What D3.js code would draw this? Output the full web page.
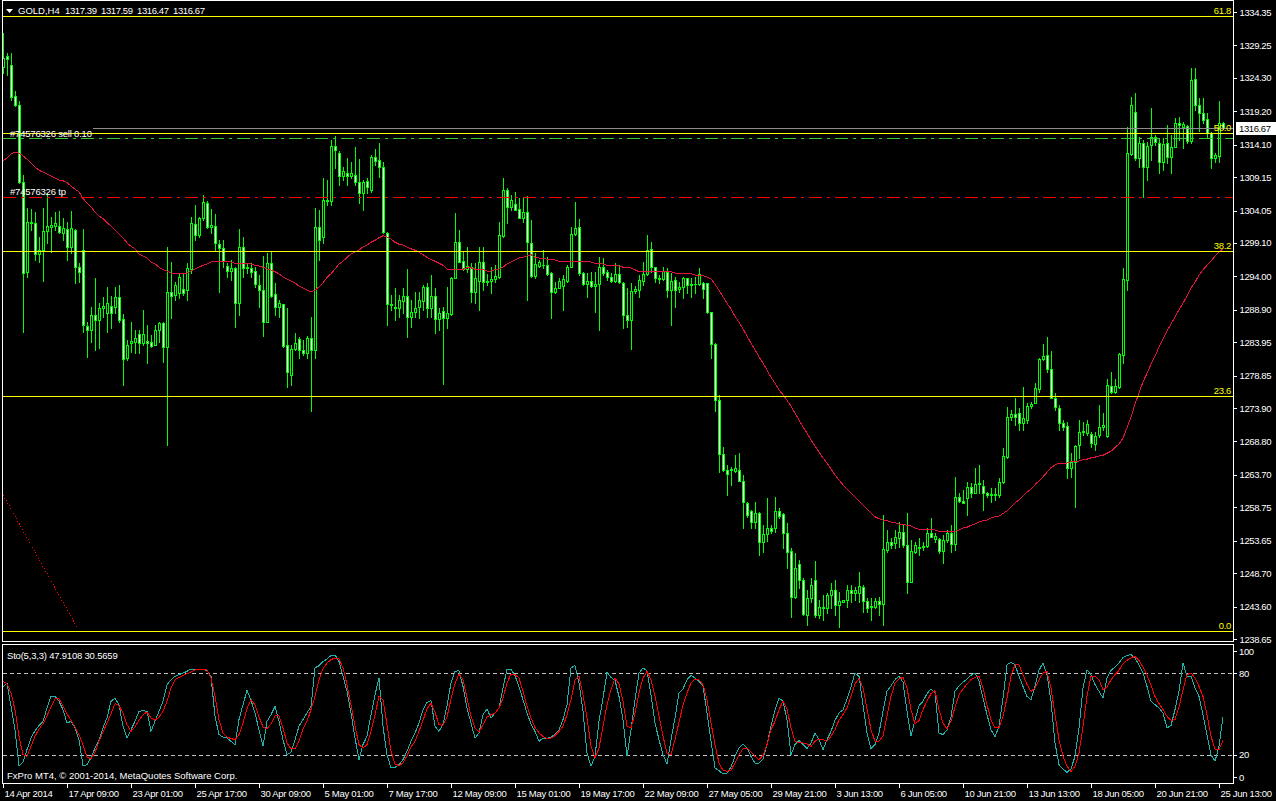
<!DOCTYPE html>
<html><head><meta charset="utf-8">
<script src="https://cdn.jsdelivr.net/npm/d3@7"></script>
<style>
html,body{margin:0;padding:0;background:#000;}
svg{display:block;}
text{font-family:"Liberation Sans",Arial,sans-serif;}
</style></head><body>
<svg id="c" width="1276" height="801"></svg>
<script>
// ---------------- DATA ----------------
const TITLE_PARTS = ["GOLD,H4","1317.39","1317.59","1316.47","1316.67"];
const STO_TITLE = "Sto(5,3,3) 47.9108 30.5659";
const COPYRIGHT = "FxPro MT4, \u00A9 2001-2014, MetaQuotes Software Corp.";

const OPEN = [1325.95,1327.63,1326.26,1321.53,1320.15,1308.40,1294.66,1302.30,1302.15,1297.41,
1298.02,1300.92,1301.53,1301.69,1301.69,1300.62,1301.23,1298.48,1301.07,1295.43,
1298.02,1286.42,1285.81,1288.10,1287.34,1289.17,1288.41,1289.48,1289.32,1290.85,
1287.49,1281.54,1283.83,1283.98,1285.20,1283.83,1284.10,1283.98,1283.52,1285.81,
1286.88,1283.22,1291.61,1291.16,1291.46,1292.07,1291.92,1295.12,1302.00,1300.31,
1302.91,1305.20,1301.53,1301.69,1298.94,1298.33,1295.58,1294.82,1295.27,1289.93,
1298.48,1295.27,1295.27,1294.82,1292.68,1291.92,1287.03,1296.04,1291.31,1289.32,
1289.78,1283.52,1278.94,1282.91,1284.44,1282.76,1282.30,1284.59,1282.76,1301.53,
1300.01,1305.65,1305.50,1313.90,1312.83,1309.32,1309.77,1309.32,1309.47,1308.40,
1306.72,1308.55,1307.18,1312.22,1311.76,1310.69,1300.62,1289.78,1289.32,1289.17,
1290.24,1291.00,1287.80,1288.56,1289.32,1290.24,1292.38,1289.17,1291.00,1287.49,
1288.71,1287.64,1288.25,1293.75,1299.24,1296.34,1295.12,1295.43,1291.61,1293.29,
1296.19,1293.14,1293.29,1293.60,1293.90,1300.16,1307.18,1304.59,1305.04,1304.28,
1302.91,1303.82,1299.09,1294.05,1295.58,1295.80,1295.73,1294.51,1291.61,1292.22,
1292.53,1293.29,1295.43,1300.47,1301.53,1294.51,1292.83,1293.29,1292.53,1292.83,
1295.43,1294.66,1293.90,1293.29,1294.36,1292.99,1288.10,1287.34,1291.77,1291.92,
1293.29,1294.36,1298.18,1295.43,1293.75,1293.60,1294.66,1291.92,1293.44,1292.07,
1292.38,1293.75,1292.68,1292.83,1292.83,1292.99,1292.99,1288.56,1283.68,1275.13,
1266.89,1264.45,1264.45,1264.29,1264.45,1262.76,1259.41,1258.19,1256.51,1257.88,
1253.45,1254.67,1255.59,1255.59,1258.19,1257.73,1254.83,1252.08,1245.06,1250.10,
1247.65,1242.31,1244.91,1247.65,1242.31,1243.53,1243.38,1245.37,1246.13,1243.84,
1244.30,1244.60,1246.13,1245.67,1245.67,1246.59,1244.45,1243.60,1243.53,1244.45,
1243.99,1252.23,1253.45,1253.30,1254.07,1254.98,1253.00,1247.35,1251.93,1252.54,
1252.69,1252.84,1254.83,1253.91,1253.91,1252.08,1253.76,1254.83,1253.15,1260.32,
1259.71,1260.17,1261.85,1260.93,1262.31,1262.00,1260.93,1260.63,1260.78,1260.63,
1262.62,1266.42,1272.53,1272.99,1273.14,1271.62,1272.07,1274.21,1274.67,1276.81,
1281.39,1282.00,1279.86,1275.43,1273.90,1271.62,1271.16,1264.75,1265.67,1268.26,
1270.24,1270.09,1269.94,1268.41,1269.79,1271.01,1269.63,1277.27,1276.35,1277.11,
1282.00,1293.44,1312.68,1319.09,1312.06,1314.35,1310.69,1314.05,1315.27,1314.35,
1311.45,1314.35,1312.22,1313.74,1317.41,1316.80,1316.94,1314.66,1324.12,1320.15,
1318.93,1318.02,1315.88,1312.06,1312.37,1317.39];

const HIGH = [1331.14,1328.09,1328.09,1322.29,1320.76,1309.47,1304.43,1304.28,1303.82,1300.01,
1304.43,1306.72,1303.06,1303.82,1303.97,1302.91,1302.30,1303.97,1301.23,1296.04,
1301.23,1287.03,1289.32,1293.75,1289.93,1290.85,1292.38,1291.00,1292.38,1292.68,
1288.25,1284.29,1287.03,1285.81,1285.81,1288.87,1286.57,1285.05,1286.57,1287.03,
1287.03,1298.48,1296.19,1293.14,1294.51,1294.51,1296.04,1303.06,1304.89,1303.06,
1306.42,1305.50,1304.28,1303.52,1299.55,1299.55,1296.04,1296.50,1295.43,1301.23,
1300.01,1296.04,1296.04,1295.43,1294.20,1297.11,1297.56,1297.72,1292.99,1290.39,
1289.78,1289.17,1283.52,1285.36,1284.74,1284.29,1284.88,1287.80,1304.43,1304.13,
1309.01,1308.71,1314.81,1315.42,1313.13,1310.69,1312.06,1311.45,1313.74,1311.91,
1308.71,1309.01,1312.52,1313.44,1314.35,1311.45,1300.77,1291.16,1292.22,1291.16,
1292.22,1295.12,1290.39,1291.61,1291.61,1292.68,1292.99,1294.20,1292.22,1289.17,
1289.32,1292.38,1293.90,1303.67,1301.07,1297.72,1298.48,1296.04,1296.04,1298.48,
1298.48,1294.36,1295.43,1295.73,1302.30,1309.01,1307.49,1306.42,1306.87,1305.96,
1305.96,1306.26,1302.60,1297.56,1296.50,1298.02,1296.95,1294.66,1293.14,1293.75,
1294.20,1295.73,1301.53,1305.35,1302.75,1294.66,1294.51,1294.66,1294.66,1296.95,
1296.80,1294.97,1294.51,1296.04,1295.73,1293.14,1292.22,1292.99,1292.53,1294.20,
1296.19,1300.31,1299.24,1295.43,1294.20,1295.43,1295.27,1294.51,1293.90,1293.14,
1293.90,1293.75,1293.75,1293.90,1295.27,1293.14,1292.99,1288.56,1283.83,1275.89,
1267.95,1265.21,1264.90,1266.73,1267.04,1263.68,1259.57,1258.34,1259.57,1258.03,
1256.05,1260.17,1256.05,1260.32,1258.65,1257.88,1256.36,1252.54,1251.78,1250.71,
1247.96,1246.13,1247.96,1250.56,1244.60,1245.37,1245.67,1247.20,1247.65,1245.82,
1244.60,1246.89,1246.89,1246.59,1248.87,1246.89,1244.91,1244.91,1244.91,1245.06,
1257.57,1255.29,1254.07,1255.29,1256.51,1256.05,1257.88,1253.76,1253.45,1254.07,
1253.45,1255.59,1257.12,1254.83,1254.07,1254.52,1255.29,1256.05,1263.37,1260.93,
1261.39,1262.62,1262.46,1264.75,1265.21,1262.91,1261.08,1261.70,1261.70,1263.22,
1267.80,1274.07,1273.60,1275.43,1273.90,1277.11,1274.67,1274.82,1277.72,1281.54,
1283.68,1284.74,1282.61,1276.20,1274.37,1272.07,1271.77,1267.04,1268.26,1272.07,
1271.77,1272.07,1270.24,1270.24,1274.37,1273.14,1278.32,1279.40,1278.32,1282.30,
1295.27,1316.80,1321.37,1321.99,1315.27,1314.81,1314.51,1319.70,1315.57,1315.12,
1315.12,1317.10,1315.57,1318.17,1318.32,1317.56,1317.10,1325.80,1325.80,1321.22,
1321.22,1318.93,1316.03,1312.83,1320.76,1317.59];

const LOW = [1325.04,1324.73,1320.92,1320.00,1308.25,1285.51,1293.90,1301.07,1296.50,1296.19,
1293.29,1299.09,1297.72,1301.07,1300.62,1299.55,1296.50,1297.56,1292.99,1293.14,
1285.51,1281.69,1283.98,1282.76,1283.07,1287.80,1285.51,1286.12,1288.41,1287.03,
1277.42,1281.23,1282.45,1282.30,1282.30,1283.52,1280.77,1283.22,1283.52,1283.98,
1280.93,1268.26,1287.64,1290.39,1290.70,1291.16,1290.39,1294.51,1299.55,1300.01,
1302.60,1301.38,1300.62,1298.02,1291.61,1295.43,1293.90,1293.44,1286.27,1288.10,
1293.90,1294.51,1293.90,1292.38,1289.32,1284.90,1287.03,1290.85,1288.10,1287.80,
1283.22,1277.11,1277.42,1282.76,1281.54,1282.00,1281.54,1273.43,1281.54,1296.50,
1299.09,1304.89,1304.89,1310.54,1307.94,1308.71,1307.94,1309.01,1307.94,1305.20,
1304.13,1306.72,1306.87,1311.00,1309.16,1300.62,1286.57,1288.87,1287.34,1287.80,
1288.41,1284.74,1286.27,1287.80,1287.64,1288.87,1287.80,1287.80,1285.36,1285.81,
1277.57,1286.12,1288.10,1293.75,1296.19,1294.97,1294.66,1290.09,1289.93,1288.87,
1291.92,1292.68,1291.46,1293.14,1293.75,1300.01,1302.15,1304.13,1304.13,1302.91,
1302.30,1290.39,1293.90,1293.75,1295.43,1295.27,1294.20,1287.64,1291.46,1292.22,
1288.87,1293.14,1295.43,1300.31,1294.20,1292.68,1290.85,1292.38,1288.56,1285.81,
1294.20,1293.44,1293.14,1293.14,1292.99,1286.12,1286.27,1282.90,1291.46,1290.85,
1292.68,1294.20,1294.66,1293.14,1292.99,1293.44,1290.85,1286.57,1289.32,1291.61,
1290.70,1291.46,1290.85,1291.46,1292.68,1290.70,1288.41,1281.54,1273.43,1264.14,
1264.29,1260.63,1262.15,1264.14,1262.76,1255.57,1257.27,1255.59,1255.59,1251.47,
1251.93,1253.61,1254.83,1254.98,1257.12,1252.54,1249.49,1242.00,1244.91,1246.43,
1242.31,1240.79,1244.30,1242.00,1241.85,1241.55,1242.62,1243.38,1242.31,1240.48,
1244.30,1243.53,1244.30,1244.60,1244.30,1242.76,1242.76,1241.55,1243.38,1242.31,
1240.79,1251.93,1252.54,1252.54,1252.69,1252.69,1245.67,1247.35,1251.78,1251.47,
1252.23,1252.69,1254.21,1253.45,1251.78,1250.25,1253.45,1251.93,1252.23,1259.57,
1259.41,1257.57,1260.32,1260.93,1260.93,1258.34,1260.32,1259.57,1259.87,1260.32,
1262.46,1266.27,1272.07,1271.31,1270.55,1270.55,1271.62,1273.90,1274.67,1276.35,
1281.23,1279.40,1275.43,1273.60,1270.55,1270.55,1263.22,1263.37,1258.80,1266.27,
1269.79,1269.79,1267.95,1267.50,1269.48,1270.55,1269.48,1276.20,1276.20,1276.96,
1280.77,1291.92,1312.52,1311.76,1310.69,1306.11,1308.71,1311.76,1314.05,1309.77,
1310.23,1311.30,1309.77,1313.74,1314.81,1313.59,1314.35,1314.35,1319.39,1316.17,
1317.41,1315.27,1310.54,1311.45,1311.45,1316.47];

const CLOSE = [1327.33,1327.17,1321.37,1320.15,1308.40,1294.51,1302.30,1302.15,1297.41,1298.02,
1300.92,1301.69,1301.84,1302.15,1300.77,1301.38,1298.48,1301.38,1295.43,1294.66,
1286.57,1285.81,1288.10,1287.34,1289.17,1289.48,1289.93,1288.41,1290.85,1287.34,
1281.39,1283.52,1284.13,1284.60,1283.83,1285.20,1283.90,1283.37,1285.81,1286.88,
1283.22,1291.61,1291.00,1292.68,1293.90,1291.46,1295.27,1302.15,1300.31,1302.91,
1305.35,1301.53,1301.84,1299.09,1298.33,1296.34,1294.82,1295.27,1289.93,1298.48,
1295.27,1295.43,1294.66,1292.83,1291.92,1287.03,1296.04,1291.00,1289.32,1289.93,
1283.37,1279.40,1282.91,1283.83,1282.76,1282.30,1284.59,1282.76,1301.53,1299.55,
1305.65,1305.50,1313.90,1313.29,1309.32,1310.08,1309.32,1309.77,1308.40,1306.72,
1308.40,1307.64,1312.22,1311.61,1310.69,1300.77,1289.78,1289.63,1289.17,1290.39,
1291.00,1287.80,1288.56,1289.17,1290.39,1292.38,1289.17,1291.00,1287.49,1288.41,
1287.64,1288.41,1293.75,1299.24,1296.19,1295.12,1295.58,1291.61,1293.75,1296.19,
1293.14,1293.29,1293.60,1294.05,1300.31,1307.18,1304.59,1305.65,1304.13,1302.91,
1303.82,1299.24,1294.05,1295.89,1296.19,1295.70,1294.36,1291.61,1292.22,1293.29,
1293.60,1295.43,1300.47,1301.38,1294.51,1292.83,1293.29,1292.53,1292.83,1295.43,
1294.51,1293.90,1293.29,1294.36,1293.14,1288.10,1287.34,1291.77,1292.07,1293.44,
1294.36,1298.02,1295.43,1293.75,1293.60,1294.82,1291.92,1293.29,1291.92,1292.38,
1293.75,1292.68,1292.83,1292.90,1294.36,1292.07,1288.56,1283.68,1275.13,1266.89,
1264.45,1263.83,1264.60,1264.75,1262.76,1259.57,1257.57,1256.51,1257.88,1253.45,
1254.67,1255.59,1255.13,1258.19,1257.42,1254.83,1251.93,1245.06,1249.49,1247.65,
1242.46,1244.91,1246.89,1242.31,1243.53,1243.38,1245.37,1246.13,1243.84,1244.45,
1244.60,1246.13,1245.67,1246.13,1246.74,1244.45,1243.38,1243.70,1244.45,1243.99,
1252.39,1253.45,1253.00,1254.21,1254.98,1253.00,1247.35,1252.08,1253.00,1252.69,
1252.84,1254.83,1254.21,1254.37,1252.08,1253.76,1254.83,1253.15,1260.32,1259.71,
1259.41,1261.85,1260.93,1262.31,1262.46,1260.93,1260.63,1260.78,1260.63,1262.62,
1266.58,1272.53,1272.99,1272.53,1271.62,1272.38,1274.21,1274.52,1276.96,1281.39,
1281.84,1279.86,1275.43,1274.06,1271.62,1271.01,1264.75,1265.67,1268.11,1270.24,
1270.40,1271.47,1268.56,1269.63,1271.01,1271.31,1277.42,1276.35,1277.27,1282.15,
1293.60,1312.83,1320.15,1312.06,1314.35,1310.69,1313.90,1315.27,1314.51,1311.45,
1314.20,1312.22,1313.74,1317.41,1317.10,1317.25,1314.66,1323.97,1320.15,1318.93,
1317.86,1315.88,1312.06,1312.52,1317.39,1316.67];

const MA = [1311.6,1312.1,1312.7,1313.0,1312.8,1312.4,1311.9,1311.3,1310.7,1310.2,
1309.9,1309.6,1309.3,1309.0,1308.7,1308.6,1308.3,1307.8,1307.3,1306.9,
1305.9,1305.2,1304.6,1303.8,1303.2,1302.8,1302.2,1301.7,1301.1,1300.5,
1299.9,1299.1,1298.6,1298.2,1297.4,1297.1,1296.8,1296.2,1295.9,1295.4,
1295.0,1294.8,1294.5,1294.5,1294.4,1294.4,1294.5,1294.8,1295.1,1295.4,
1295.7,1295.9,1296.2,1296.2,1296.3,1296.3,1296.2,1296.2,1296.0,1295.9,
1295.9,1295.9,1295.9,1295.7,1295.6,1295.4,1295.1,1295.0,1294.7,1294.4,
1293.9,1293.6,1293.3,1293.0,1292.5,1292.2,1291.9,1291.6,1291.9,1292.4,
1293.0,1293.8,1294.4,1295.1,1295.9,1296.3,1296.9,1297.4,1297.7,1298.0,
1298.5,1298.8,1299.2,1299.5,1299.9,1300.2,1300.0,1299.7,1299.2,1298.9,
1298.8,1298.5,1298.2,1298.0,1297.7,1297.3,1296.9,1296.6,1296.3,1296.0,
1295.7,1295.1,1295.0,1295.0,1295.1,1295.1,1295.3,1295.3,1295.1,1295.0,
1295.0,1294.8,1294.8,1295.0,1295.1,1295.4,1295.9,1296.2,1296.5,1296.8,
1296.9,1297.1,1297.3,1296.9,1296.8,1296.8,1296.6,1296.6,1296.5,1296.3,
1296.3,1296.2,1296.2,1296.3,1296.3,1296.3,1296.2,1296.2,1296.0,1295.9,
1295.9,1295.7,1295.7,1295.7,1295.6,1295.4,1295.4,1295.3,1295.0,1294.7,
1294.7,1294.8,1294.8,1294.8,1294.8,1294.8,1294.7,1294.7,1294.5,1294.5,
1294.4,1294.4,1294.4,1294.2,1294.2,1294.1,1293.9,1293.6,1292.8,1291.9,
1290.9,1289.9,1289.0,1287.9,1287.0,1286.0,1284.9,1283.8,1282.8,1281.7,
1280.8,1279.7,1278.6,1277.7,1276.7,1275.9,1275.1,1274.2,1273.1,1272.1,
1271.0,1270.1,1269.0,1268.1,1267.2,1266.3,1265.5,1264.6,1263.7,1262.9,
1262.2,1261.5,1260.9,1260.3,1259.7,1259.1,1258.5,1257.9,1257.3,1257.0,
1256.8,1256.7,1256.5,1256.4,1256.2,1256.2,1256.0,1255.9,1255.6,1255.4,
1255.4,1255.3,1255.3,1255.3,1255.1,1255.1,1255.0,1255.0,1255.1,1255.3,
1255.6,1255.7,1256.0,1256.2,1256.5,1256.7,1256.8,1257.1,1257.3,1257.4,
1257.8,1258.2,1258.8,1259.4,1259.9,1260.5,1261.1,1261.5,1262.2,1262.8,
1263.4,1264.1,1264.8,1265.2,1265.5,1265.5,1265.5,1265.7,1265.7,1265.8,
1266.0,1266.1,1266.3,1266.4,1266.6,1266.7,1267.0,1267.3,1267.9,1268.4,
1269.3,1270.9,1272.5,1274.5,1276.2,1277.9,1279.2,1280.6,1281.8,1283.2,
1284.4,1285.7,1286.7,1287.8,1288.9,1289.9,1291.0,1292.2,1293.1,1294.2,
1295.0,1295.7,1296.3,1297.1,1297.7,1298.2];

const STO_K = [69.8,72.7,55.6,38.5,12.2,14.6,24,32.4,37.8,41.5,
44.6,54.4,63,63,59.3,53.2,43.4,44.6,39.8,31.2,
12.2,12.9,17.8,25.1,31.2,39.8,47.1,59.3,61.7,56.8,
41,32.4,38.5,44.6,52,52.4,52,37.3,44.6,52,
59.3,71.5,75.1,77.6,78.8,80,81.2,82.9,82.4,82.4,
82.4,82,77.6,48.3,34.9,33.2,32.4,30,27.6,45.9,
56.8,67.3,60,50.7,38.5,26.3,44.6,49.5,55.6,44.6,
31.2,20.2,22,31.2,41,45.9,50.7,55.6,83.7,85.4,
88.5,90.2,92.9,93.2,88.5,77.6,66.6,50.7,32.4,16.6,
27.6,33.7,49.5,64.1,76.3,41,20.2,10.5,11,12.9,
16.6,22.7,30,36.1,43.4,53.2,58.5,59.8,41,37.3,
42.2,56.1,72.7,81.2,81.7,70.2,54.4,43.4,32.4,36.1,
49.5,53.7,47.1,50.7,54.4,69,82.9,82.9,78,69.8,
60.5,50.7,42.7,37.3,30,32.4,32,33.2,34.9,38.5,
45.9,56.8,83.7,85.4,72.7,52,21.5,11.7,19,44.6,
61.7,80.5,76.8,74.6,62.9,45.9,19,38.5,60.5,80,
83.7,81.7,64.1,43.4,31.2,20.2,13.4,31.2,47.1,65.4,
68.5,75.1,78.3,76.3,73.9,70.7,50.7,30,10.5,8.5,
6.1,6.8,11.2,19,25.1,28,25.1,19,14.1,14.1,
17.1,27.6,41,53.2,61.7,59.3,45.9,20.2,27.6,30.7,
27.8,24.6,28.8,36.1,31.2,23.9,31.2,37.3,45.4,50.7,
53,61,70,80,77.6,56.8,36.1,24.6,27.6,36.1,
52,66.6,70.7,75.1,78,73.2,52,33.7,45.9,56.1,
59.3,64.9,68.3,65.4,36.1,34.9,38.5,47.8,66.6,70.7,
73.4,75.6,78.3,80,73.9,61.7,49.5,38.5,33.2,41,
61.7,86.1,87.8,86.1,77.6,70.2,62.9,60.5,70.2,82,
87.3,78.8,59.3,28.8,12.9,9.8,7.3,9.8,19,39.8,
69,82.4,78.8,71.5,66.6,61.7,76.3,82,84.4,87.3,
91.5,92.9,93.4,91,86.1,80,70.2,59.3,56.8,54.4,
50.7,39.8,41.5,53.2,66.6,87.3,77.6,77.6,69,62.9,
49.5,34.9,20.2,15.4,26.3,47.9];

const STO_D = [73.9,72.2,65.4,53.2,33.7,20.2,19,26.3,33.7,39,
42.9,48.8,55.1,61.2,61.2,56.1,50.2,45.4,40.5,34.9,
27.6,18.5,17.1,21.9,30,36.8,43.4,50.2,57.6,56.1,
50.7,42.2,37.3,40.5,45.4,49.5,51.5,47.1,45.4,47.8,
52,59.3,69,75.1,76.8,78.3,79.5,80.7,82.2,82.4,
82.4,82.2,76.3,62.9,45.9,36.1,33.2,32,31.2,34.9,
43.4,53.9,60.5,56.8,47.8,40.5,39,42.9,48.8,48.8,
39.8,28.8,24.4,24.4,30,39,44.6,53.2,62.9,75.1,
83.2,87.3,89.8,91,90.2,83.7,71.5,56.8,41,27.6,
25.1,27.6,37.3,49.5,62.9,60.5,42.2,22.7,13.4,12.2,
14.1,19.5,25.9,30,37.3,45.4,53.7,58,51.2,42.2,
41.7,47.8,61,72.2,79.3,75.1,61.7,48.3,39.8,36.6,
42.2,47.8,49.5,50.7,54.4,61.7,72.7,79.3,78.8,76.3,
66.6,55.6,47.1,40.2,36.1,33.7,32,32.4,34.1,37.3,
41,49.5,60.5,75.1,77.6,64.1,47.1,26.3,17.8,25.1,
41,56.8,67.8,76.3,72,59.3,41,39.8,50.7,65.4,
76.3,81.2,75.1,62.9,48.3,33.7,21.5,20.2,31.2,43.9,
56.8,65.4,72.7,75.6,75.1,71.5,60.5,43.4,27.6,14.1,
8.8,8,8.8,14.1,20.2,24.6,25.1,22.2,19,16.6,
19.5,27.6,38.5,44.6,53.2,59.3,53.7,39.8,30,28.8,
28.8,28,26.3,30,31.7,31.2,30,33.7,38.5,45.4,
49.5,54.5,62.9,72.2,75.9,69,53.9,38.5,30,30,
34.1,48.3,62.9,72.7,75.6,76.8,69,53.2,42.7,45.2,
53.2,59.3,64.9,67.1,53.2,43.4,39,44.6,55.1,64.1,
68.3,72,75.1,76.8,77.6,69,56.8,45.9,39.8,39.8,
48.3,61.7,77.6,86.1,86.1,78.8,71.5,66.6,69,75.1,
80,81.2,69,49.5,31.2,19,11.7,8,11.7,21.5,
41,62.9,77.6,77.6,75.1,67.8,69.8,75.1,78.8,82,
86.8,89.3,91,92.2,89.3,84.4,78.3,71,62.9,57.6,
53.2,48.3,45.4,45.9,55.1,67.8,78.8,80,76.3,70.2,
62.9,49.5,33.7,24.4,23.9,30.6];

const TIME_TICK_BARS = [0,16,32,48,64,80,96,112,128,144,160,176,192,208,224,240,256,272,288,304];
const TIME_LABELS = ["14 Apr 2014","17 Apr 09:00","23 Apr 01:00","25 Apr 17:00","30 Apr 09:00",
"5 May 01:00","7 May 17:00","12 May 09:00","15 May 01:00","19 May 17:00","22 May 09:00",
"27 May 05:00","29 May 21:00","3 Jun 13:00","6 Jun 05:00","10 Jun 21:00","13 Jun 13:00",
"18 Jun 05:00","20 Jun 21:00","25 Jun 13:00"];
const PRICE_TICKS = [1334.35,1329.25,1324.30,1319.20,1314.10,1309.15,1304.05,1299.10,1294.00,1288.90,
1283.95,1278.85,1273.90,1268.80,1263.70,1258.75,1253.65,1248.70,1243.60,1238.65];
const STO_TICKS = [100,80,20,0];
const STO_LEVELS = [80,20];

const FIB_LEVELS = [0,23.6,38.2,50.0,61.8];
const FIB_LOW = 1239.90, FIB_HIGH = 1391.75;
const FIB_BAR_HIGH = -120, FIB_BAR_LOW = 19;
const ORDER_LABEL = "#74576326 sell 0.10", ORDER_PRICE = 1315.12;
const TP_LABEL = "#74576326 tp", TP_PRICE = 1306.11;
const BID = 1316.67;

// ---------------- DRAW ----------------
const N = OPEN.length;
const svg = d3.select("#c");
svg.append("rect").attr("width",1276).attr("height",801).attr("fill","#000");

const x = d3.scaleLinear().domain([0, N-1]).range([3, 1223]);
const y = d3.scaleLinear().domain([1238.65, 1334.35]).range([639, 12]);
const ys = d3.scaleLinear().domain([0, 100]).range([782.3, 645.7]);

const defs = svg.append("defs");
defs.append("clipPath").attr("id","clipMain").append("rect").attr("x",3).attr("y",1).attr("width",1230).attr("height",640);
defs.append("clipPath").attr("id","clipSto").append("rect").attr("x",3).attr("y",645).attr("width",1230).attr("height",138);

const gMain = svg.append("g").attr("clip-path","url(#clipMain)").attr("shape-rendering","crispEdges");
const gSto = svg.append("g").attr("clip-path","url(#clipSto)").attr("shape-rendering","crispEdges");

// candles
const bars = d3.range(N).map(i => ({i, o:OPEN[i], h:HIGH[i], l:LOW[i], c:CLOSE[i]}));
const cg = gMain.append("g");
bars.forEach(b => {
  const xs = Math.round(x(b.i));
  const yh = Math.round(y(b.h)), yl = Math.round(y(b.l));
  cg.append("rect").attr("x",xs).attr("y",yh).attr("width",1).attr("height",Math.max(1,yl-yh+1)).attr("fill","#00ff00");
  const top = Math.round(y(Math.max(b.o,b.c))), bot = Math.round(y(Math.min(b.o,b.c)));
  cg.append("rect").attr("x",xs-1).attr("y",top).attr("width",3).attr("height",Math.max(1,bot-top+1)).attr("fill","#00ff00");
  if (bot-top >= 2) {
    cg.append("rect").attr("x",xs).attr("y",top+1).attr("width",1).attr("height",bot-top-1)
      .attr("fill", b.c >= b.o ? "#000000" : "#ffffff");
  }
});

// moving average
gMain.append("path").datum(MA)
  .attr("d", d3.line().x((d,i)=>x(i)).y(d=>y(d)))
  .attr("fill","none").attr("stroke","#e0143c").attr("stroke-width",1);

// fib levels
const fibPrice = l => FIB_LOW + (FIB_HIGH-FIB_LOW)*l/100;
FIB_LEVELS.forEach(l => {
  const yy = Math.round(y(fibPrice(l))) + 0.5;
  gMain.append("line").attr("x1",3).attr("x2",1233).attr("y1",yy).attr("y2",yy)
    .attr("stroke","#ffff00").attr("stroke-width",1);
});
gMain.append("line")
  .attr("x1",x(FIB_BAR_HIGH)).attr("y1",y(FIB_HIGH)).attr("x2",x(FIB_BAR_LOW)).attr("y2",y(FIB_LOW))
  .attr("stroke","#ff0000").attr("stroke-width",1).attr("stroke-dasharray","1,2");

// bid line
const yBid = Math.round(y(BID)) + 0.5;
gMain.append("line").attr("x1",93).attr("x2",1233).attr("y1",yBid).attr("y2",yBid)
  .attr("stroke","#8c8c8c").attr("stroke-width",1);

// order lines
const yOrd = Math.round(y(ORDER_PRICE)) + 0.5;
gMain.append("line").attr("x1",3).attr("x2",1233).attr("y1",yOrd).attr("y2",yOrd)
  .attr("stroke","#32cd32").attr("stroke-width",1).attr("stroke-dasharray","13,5,3,5");
const yTp = Math.round(y(TP_PRICE)) + 0.5;
gMain.append("line").attr("x1",3).attr("x2",1233).attr("y1",yTp).attr("y2",yTp)
  .attr("stroke","#ff0000").attr("stroke-width",1).attr("stroke-dasharray","13,5,3,5");

const txt = (g, xx, yy, s, col, anchor, ls) => g.append("text").attr("x",xx).attr("y",yy)
  .attr("fill",col||"#fff").attr("font-size","9.5px").attr("text-anchor",anchor||"start")
  .attr("letter-spacing", ls||0).text(s);

txt(svg, 10, yOrd-1.5, ORDER_LABEL, "#fff", "start", "-0.2px");
txt(svg, 10, yTp-2.5, TP_LABEL, "#fff", "start", "-0.2px");

// fib labels
FIB_LEVELS.forEach(l => {
  txt(svg, 1231, Math.round(y(fibPrice(l))) - 2, l.toFixed(1), "#ffff00", "end", "-0.3px");
});

// stochastic
STO_LEVELS.forEach(v => {
  const yy = Math.round(ys(v)) + 0.5;
  gSto.append("line").attr("x1",3).attr("x2",1233).attr("y1",yy).attr("y2",yy)
    .attr("stroke","#c0c0c0").attr("stroke-width",1).attr("stroke-dasharray","4,3");
});
const sLine = d3.line().x((d,i)=>x(i)).y(d=>ys(d));
gSto.append("path").datum(STO_K).attr("d",sLine).attr("fill","none").attr("stroke","#20b2aa").attr("stroke-width",1);
gSto.append("path").datum(STO_D).attr("d",sLine).attr("fill","none").attr("stroke","#ff0000").attr("stroke-width",1);

// frames
const frame = svg.append("g").attr("shape-rendering","crispEdges").attr("fill","none").attr("stroke","#fff");
frame.append("rect").attr("x",2.5).attr("y",0.5).attr("width",1231).attr("height",641);
frame.append("rect").attr("x",2.5).attr("y",644.5).attr("width",1231).attr("height",139);

// price axis
const pAxis = svg.append("g").attr("transform","translate(1233.5,0)")
  .call(d3.axisRight(y).tickValues(PRICE_TICKS).tickSize(3).tickPadding(3).tickFormat(d3.format(".2f")));
pAxis.select(".domain").remove();
pAxis.selectAll("line").attr("stroke","#fff").attr("shape-rendering","crispEdges");
pAxis.selectAll("text").attr("fill","#fff").attr("font-size","9.5px").attr("letter-spacing","-0.4px")
  .attr("font-family","Liberation Sans, Arial, sans-serif");

// bid label
const yb = y(BID);
svg.append("rect").attr("x",1236).attr("y",Math.round(yb)-6).attr("width",40).attr("height",13).attr("fill","#fff");
txt(svg, 1239, Math.round(yb)+4, d3.format(".2f")(BID), "#000", "start", "-0.4px");

// stochastic axis
STO_TICKS.forEach(v => {
  const yy = Math.max(651, Math.min(777, ys(v)));
  svg.append("line").attr("x1",1233.5).attr("x2",1236.5).attr("y1",Math.round(yy)+0.5).attr("y2",Math.round(yy)+0.5)
    .attr("stroke","#fff").attr("shape-rendering","crispEdges");
  txt(svg, 1239, yy+3.5, String(v), "#fff", "start", "-0.4px");
});

// time axis
const tAxis = svg.append("g").attr("transform","translate(0,783.5)")
  .call(d3.axisBottom(x).tickValues(TIME_TICK_BARS).tickSize(4).tickPadding(3).tickFormat((d,k)=>TIME_LABELS[k]));
tAxis.select(".domain").remove();
tAxis.selectAll("line").attr("stroke","#fff").attr("shape-rendering","crispEdges");
tAxis.selectAll("text").attr("fill","#fff").attr("font-size","9.5px").attr("text-anchor","start").attr("dx","1")
  .attr("letter-spacing","-0.3px").attr("font-family","Liberation Sans, Arial, sans-serif");

// titles
svg.append("path").attr("d","M6,9 L13,9 L9.5,13 Z").attr("fill","#fff");
const TITLE_X = [18,65,101,137,173];
TITLE_PARTS.forEach((s,k) => txt(svg, TITLE_X[k], 14, s, "#fff", "start", k ? "-0.4px" : "0"));
txt(svg, 7, 659, STO_TITLE, "#fff", "start", "-0.2px");
txt(svg, 7, 779, COPYRIGHT);
</script>
</body></html>
